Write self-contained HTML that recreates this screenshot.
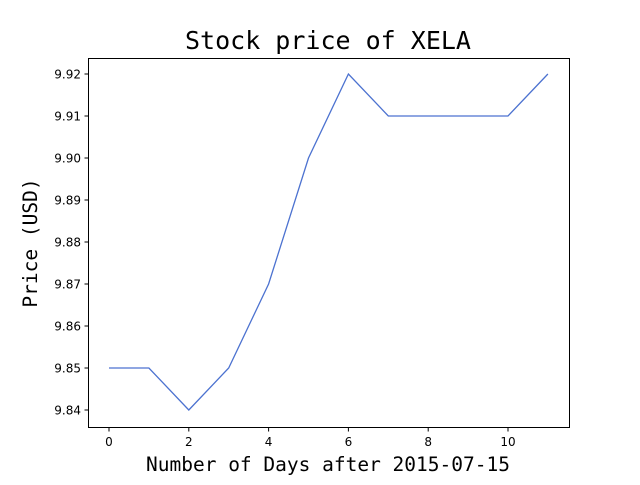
<!DOCTYPE html>
<html><head><meta charset="utf-8"><style>
body{margin:0;background:#fff}
svg text{font-family:"DejaVu Sans","Liberation Sans",sans-serif}
</style></head><body>
<svg width="640" height="480" xmlns="http://www.w3.org/2000/svg">
<rect width="640" height="480" fill="#fff"/>
<text x="328" y="49" text-anchor="middle" font-size="25" style="font-family:'DejaVu Sans Mono','Liberation Mono',monospace">Stock price of XELA</text>
<text x="328" y="471" text-anchor="middle" font-size="19.5" style="font-family:'DejaVu Sans Mono','Liberation Mono',monospace">Number of Days after 2015-07-15</text>
<text transform="translate(37,243) rotate(-90)" text-anchor="middle" font-size="19.5" style="font-family:'DejaVu Sans Mono','Liberation Mono',monospace">Price (USD)</text>
<g id="ticks"></g>
<polyline id="line" fill="none" stroke="#4c72d0" stroke-width="1.3"/>
<rect x="88.5" y="58.5" width="481" height="369" fill="none" stroke="#000" stroke-width="1"/>
</svg>
<script>
const days=[0,1,2,3,4,5,6,7,8,9,10,11];
const prices=[9.85,9.85,9.84,9.85,9.87,9.90,9.92,9.91,9.91,9.91,9.91,9.92];
const xTicks=[0,2,4,6,8,10];
const yTicks=[9.84,9.85,9.86,9.87,9.88,9.89,9.90,9.91,9.92];
const xs=v=>109+v*39.9;
const ys=v=>410-(v-9.84)/0.01*42;
const ns="http://www.w3.org/2000/svg";
const g=document.getElementById('ticks');
function mk(t,a){const e=document.createElementNS(ns,t);for(const k in a)e.setAttribute(k,a[k]);g.appendChild(e);return e;}
xTicks.forEach(v=>{
 const l=mk('line',{x1:xs(v),x2:xs(v),y1:427.5,y2:431.5,stroke:'#000'});
 
 
 const t=mk('text',{x:xs(v),y:446,'text-anchor':'middle','font-size':12});
 t.textContent=v;
 
 
});
yTicks.forEach(v=>{
 const l=mk('line',{x1:84.5,x2:88.5,y1:ys(v),y2:ys(v),stroke:'#000'});
 
 
 const t=mk('text',{x:81,y:ys(v)+4.5,'text-anchor':'end','font-size':12});
 t.textContent=v.toFixed(2);
 
 
});
document.getElementById('line').setAttribute('points',days.map((d,i)=>xs(d)+','+ys(prices[i])).join(' '));
</script>
</body></html>
